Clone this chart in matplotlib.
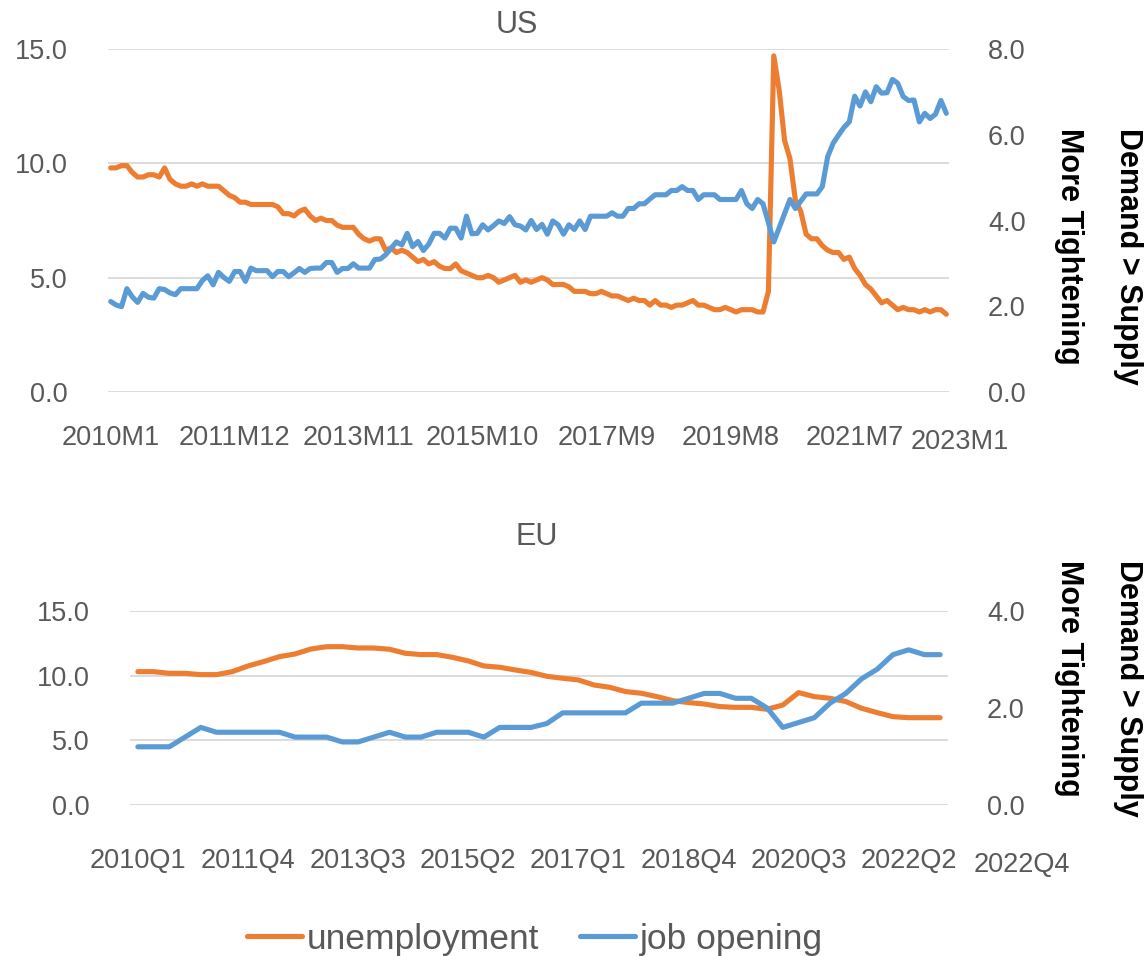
import matplotlib
matplotlib.use("Agg")
import matplotlib.pyplot as plt

plt.rcParams["font.family"] = ["Liberation Sans", "DejaVu Sans"]

W, H = 1145, 956
ORANGE = "#ED7D31"
BLUE = "#5B9BD5"
GREY = "#595959"
GRID = "#D9D9D9"
TICK_FS = 19.5

# ---------------------------------------------------------------------------
# Data
# ---------------------------------------------------------------------------
US_MONTHS = [f"{y}M{m}" for y in range(2010, 2023) for m in range(1, 13)]

US_UNEMPLOYMENT = [
    9.8, 9.8, 9.9, 9.9, 9.6, 9.4, 9.4, 9.5, 9.5, 9.4, 9.8, 9.3,
    9.1, 9.0, 9.0, 9.1, 9.0, 9.1, 9.0, 9.0, 9.0, 8.8, 8.6, 8.5,
    8.3, 8.3, 8.2, 8.2, 8.2, 8.2, 8.2, 8.1, 7.8, 7.8, 7.7, 7.9,
    8.0, 7.7, 7.5, 7.6, 7.5, 7.5, 7.3, 7.2, 7.2, 7.2, 6.9, 6.7,
    6.6, 6.7, 6.7, 6.2, 6.3, 6.1, 6.2, 6.1, 5.9, 5.7, 5.8, 5.6,
    5.7, 5.5, 5.4, 5.4, 5.6, 5.3, 5.2, 5.1, 5.0, 5.0, 5.1, 5.0,
    4.8, 4.9, 5.0, 5.1, 4.8, 4.9, 4.8, 4.9, 5.0, 4.9, 4.7, 4.7,
    4.7, 4.6, 4.4, 4.4, 4.4, 4.3, 4.3, 4.4, 4.3, 4.2, 4.2, 4.1,
    4.0, 4.1, 4.0, 4.0, 3.8, 4.0, 3.8, 3.8, 3.7, 3.8, 3.8, 3.9,
    4.0, 3.8, 3.8, 3.7, 3.6, 3.6, 3.7, 3.6, 3.5, 3.6, 3.6, 3.6,
    3.5, 3.5, 4.4, 14.7, 13.2, 11.0, 10.2, 8.4, 7.9, 6.9, 6.7, 6.7,
    6.4, 6.2, 6.1, 6.1, 5.8, 5.9, 5.4, 5.1, 4.7, 4.5, 4.2, 3.9,
    4.0, 3.8, 3.6, 3.7, 3.6, 3.6, 3.5, 3.6, 3.5, 3.6, 3.6, 3.4,
]

US_JOB_OPENING = [
    2.11, 2.03, 1.99, 2.41, 2.22, 2.09, 2.30, 2.21, 2.19, 2.41, 2.39, 2.31,
    2.27, 2.41, 2.41, 2.41, 2.41, 2.60, 2.71, 2.50, 2.79, 2.67, 2.58, 2.81,
    2.81, 2.58, 2.89, 2.83, 2.83, 2.83, 2.69, 2.81, 2.81, 2.69, 2.78, 2.88,
    2.79, 2.88, 2.89, 2.89, 3.02, 3.02, 2.79, 2.88, 2.88, 2.99, 2.89, 2.89,
    2.89, 3.09, 3.10, 3.20, 3.35, 3.50, 3.43, 3.70, 3.39, 3.51, 3.30, 3.45,
    3.70, 3.70, 3.59, 3.82, 3.82, 3.59, 4.10, 3.69, 3.70, 3.90, 3.78, 3.88,
    3.99, 3.93, 4.09, 3.90, 3.87, 3.78, 4.00, 3.79, 3.91, 3.68, 3.99, 3.90,
    3.68, 3.90, 3.79, 3.99, 3.79, 4.10, 4.10, 4.10, 4.10, 4.18, 4.10, 4.10,
    4.28, 4.28, 4.39, 4.39, 4.50, 4.60, 4.60, 4.60, 4.70, 4.70, 4.79, 4.70,
    4.70, 4.49, 4.60, 4.60, 4.60, 4.49, 4.49, 4.49, 4.49, 4.70, 4.39, 4.28,
    4.49, 4.39, 3.95, 3.50, 3.83, 4.16, 4.49, 4.28, 4.45, 4.62, 4.62, 4.62,
    4.79, 5.49, 5.80, 5.99, 6.17, 6.30, 6.90, 6.67, 7.00, 6.77, 7.12, 6.97,
    6.98, 7.29, 7.20, 6.89, 6.80, 6.81, 6.30, 6.50, 6.38, 6.48, 6.80, 6.50,
]

EU_QUARTERS = [f"{y}Q{q}" for y in range(2010, 2023) for q in range(1, 5)]

EU_UNEMPLOYMENT = [
    10.31, 10.31, 10.18, 10.18, 10.08, 10.08, 10.31, 10.75, 11.09, 11.47,
    11.68, 12.06, 12.24, 12.24, 12.14, 12.14, 12.04, 11.73, 11.63, 11.63,
    11.42, 11.14, 10.75, 10.65, 10.44, 10.25, 9.95, 9.80, 9.67, 9.28,
    9.10, 8.77, 8.64, 8.38, 8.07, 7.92, 7.81, 7.61, 7.55, 7.55,
    7.40, 7.73, 8.69, 8.38, 8.25, 8.00, 7.48, 7.14, 6.83, 6.75,
    6.75, 6.75,
]

EU_JOB_OPENING = [
    1.2, 1.2, 1.2, 1.4, 1.6, 1.5, 1.5, 1.5, 1.5, 1.5,
    1.4, 1.4, 1.4, 1.3, 1.3, 1.4, 1.5, 1.4, 1.4, 1.5,
    1.5, 1.5, 1.4, 1.6, 1.6, 1.6, 1.68, 1.9, 1.9, 1.9,
    1.9, 1.9, 2.1, 2.1, 2.1, 2.2, 2.3, 2.3, 2.2, 2.2,
    2.0, 1.6, 1.7, 1.8, 2.1, 2.3, 2.6, 2.8, 3.1, 3.2,
    3.1, 3.1,
]

US_TICK_STEP = 23
EU_TICK_STEP = 7
US_LEFT_TICKS = [0, 5, 10, 15]
US_RIGHT_TICKS = [0, 2, 4, 6, 8]
EU_LEFT_TICKS = [0, 5, 10, 15]
EU_RIGHT_TICKS = [0, 2, 4]


def fig_rect(x0, y0, x1, y1):
    return [x0 / W, 1 - y1 / H, (x1 - x0) / W, (y1 - y0) / H]


def draw_panel(rect, cats, left_vals, right_vals, left_ticks, right_ticks,
               right_max, step, xpad):
    ax = fig.add_axes(rect)
    n = len(cats)
    x = list(range(n))
    l1, = ax.plot(x, left_vals, color=ORANGE, lw=3.7,
                  solid_capstyle="round", solid_joinstyle="round")
    ax.set_xlim(-0.5, n - 0.5)
    ax.set_ylim(0, 15)
    ax.set_yticks(left_ticks)
    ax.set_yticklabels([f"{v:.1f}" for v in left_ticks])
    ax.set_xticks(x[::step])
    ax.set_xticklabels(cats[::step])
    ax.grid(axis="y", color=GRID, lw=1.3)
    ax.set_axisbelow(True)
    ax.tick_params(axis="y", length=0, pad=29, labelsize=TICK_FS, labelcolor=GREY)
    ax.tick_params(axis="x", length=0, pad=xpad, labelsize=TICK_FS, labelcolor=GREY)
    for s in ax.spines.values():
        s.set_visible(False)

    ax2 = ax.twinx()
    l2, = ax2.plot(x, right_vals, color=BLUE, lw=3.7,
                   solid_capstyle="round", solid_joinstyle="round")
    ax2.set_ylim(0, right_max)
    ax2.set_yticks(right_ticks)
    ax2.set_yticklabels([f"{v:.1f}" for v in right_ticks])
    ax2.tick_params(axis="y", length=0, pad=28, labelsize=TICK_FS, labelcolor=GREY)
    for s in ax2.spines.values():
        s.set_visible(False)
    return l1, l2


fig = plt.figure(figsize=(W / 100, H / 100), dpi=100)

# --- US panel ---
l_un, l_jo = draw_panel(fig_rect(108, 49, 949, 392), US_MONTHS,
                        US_UNEMPLOYMENT, US_JOB_OPENING,
                        US_LEFT_TICKS, US_RIGHT_TICKS, 8, US_TICK_STEP, 24)
fig.text(517 / W, 1 - 25 / H, "US", ha="center", va="center",
         fontsize=22, color=GREY)
fig.text(960 / W, 1 - 449 / H, "2023M1", ha="center", va="baseline",
         fontsize=TICK_FS, color=GREY)

# --- EU panel ---
draw_panel(fig_rect(130, 611, 948, 805), EU_QUARTERS,
           EU_UNEMPLOYMENT, EU_JOB_OPENING,
           EU_LEFT_TICKS, EU_RIGHT_TICKS, 4, EU_TICK_STEP, 31)
fig.text(537 / W, 1 - 537 / H, "EU", ha="center", va="center",
         fontsize=22, color=GREY)
fig.text(1022 / W, 1 - 872 / H, "2022Q4", ha="center", va="baseline",
         fontsize=TICK_FS, color=GREY)

# --- right-hand annotations ---
for top in (128, 560):
    fig.text(1128 / W, 1 - top / H, "Demand > Supply", rotation=270,
             ha="center", va="top", fontsize=22, fontweight="bold")
    fig.text(1069 / W, 1 - top / H, "More Tightening", rotation=270,
             ha="center", va="top", fontsize=22, fontweight="bold")

# --- legend ---
fig.legend(handles=[l_un, l_jo], labels=["unemployment", "job opening"],
           loc="center", bbox_to_anchor=(535 / W, 1 - 939 / H), ncol=2,
           frameon=False, fontsize=25.5, labelcolor=GREY,
           handlelength=1.55, handletextpad=0.15, columnspacing=1.15)

fig.savefig("out.png", dpi=100)
